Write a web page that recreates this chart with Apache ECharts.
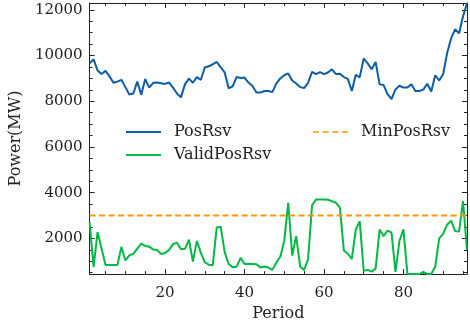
<!DOCTYPE html>
<html lang="en">
<head>
    <meta charset="UTF-8">
    <title>Power reserve</title>
    <script src="https://cdn.jsdelivr.net/npm/echarts@6/dist/echarts.min.js"></script>
    <style>
        html, body { margin: 0; padding: 0; background: #fff; }
        #container { width: 470px; height: 327px; }
    </style>
</head>
<body>
    <div id="container"></div>
</body>
<script>
    var period = [1, 2, 3, 4, 5, 6, 7, 8, 9, 10, 11, 12, 13, 14, 15, 16, 17, 18, 19, 20,
        21, 22, 23, 24, 25, 26, 27, 28, 29, 30, 31, 32, 33, 34, 35, 36, 37, 38, 39, 40,
        41, 42, 43, 44, 45, 46, 47, 48, 49, 50, 51, 52, 53, 54, 55, 56, 57, 58, 59, 60,
        61, 62, 63, 64, 65, 66, 67, 68, 69, 70, 71, 72, 73, 74, 75, 76, 77, 78, 79, 80,
        81, 82, 83, 84, 85, 86, 87, 88, 89, 90, 91, 92, 93, 94, 95, 96];

    var posRsv = [9660, 9830, 9350, 9190, 9330, 9090, 8810, 8860, 8940, 8620,
        8300, 8340, 8860, 8290, 8970, 8600, 8810, 8820, 8790, 8760,
        8820, 8600, 8340, 8170, 8740, 8990, 8810, 9060, 8940, 9480,
        9530, 9620, 9720, 9480, 9260, 8570, 8650, 9060, 9020, 9040,
        8820, 8670, 8380, 8380, 8450, 8450, 8400, 8770, 9000, 9140,
        9220, 8910, 8780, 8620, 8580, 8810, 9290, 9190, 9280, 9190,
        9260, 9400, 9190, 9210, 9060, 8980, 8450, 9160, 9050, 9870,
        9660, 9400, 9720, 8740, 8710, 8310, 8100, 8520, 8680, 8600,
        8600, 8750, 8450, 8450, 8510, 8770, 8430, 9140, 8910, 9190,
        10110, 10750, 11150, 10980, 11710, 12300];

    var validPosRsv = [2700, 750, 2280, 1575, 840, 840, 840, 840, 1630, 1035,
        1260, 1330, 1550, 1770, 1670, 1640, 1520, 1500, 1320, 1360,
        1500, 1750, 1815, 1530, 1545, 1950, 990, 1890, 1380, 950,
        850, 830, 2480, 2510, 1400, 880, 740, 760, 1150, 880,
        880, 880, 870, 725, 770, 725, 625, 940, 1200, 1900,
        3560, 1250, 2100, 765, 625, 1100, 3460, 3700, 3700, 3700,
        3690, 3630, 3560, 3350, 1475, 1330, 1100, 2380, 2750, 580,
        625, 550, 680, 2390, 2100, 2340, 2250, 540, 1900, 2400,
        440, 440, 440, 440, 540, 440, 440, 760, 2000, 2200,
        2600, 2780, 2320, 2300, 3630, 1500];

    var minPosRsv = 3000;
    var minPeriods = [1, 96];

    var FONT = 'DejaVu Serif';
    var AXIS = '#222';
    // four dashes for the MinPosRsv legend sample
    var DASH_ICON = 'path://M0,0h6v1.6h-6z M9.7,0h6v1.6h-6z M19.4,0h6v1.6h-6z M29.1,0h5.9v1.6h-5.9z';

    function pairs(xs, ys) {
        return xs.map(function (x, i) { return [x, ys[i]]; });
    }

    var xMin = period[0], xMax = period[period.length - 1];
    var yMin = Math.min.apply(null, posRsv.concat(validPosRsv));
    var yMax = Math.max.apply(null, posRsv.concat(validPosRsv));

    var baseAxis = {
        type: 'value',
        axisLine: { show: true, onZero: false, lineStyle: { color: AXIS, width: 1 } },
        axisTick: { show: true, inside: true, length: 5, lineStyle: { color: AXIS } },
        minorTick: { show: true, splitNumber: 4, length: 3, lineStyle: { color: AXIS } },
        splitLine: { show: false },
        minorSplitLine: { show: false }
    };

    function axis(extra) {
        return Object.assign({}, JSON.parse(JSON.stringify(baseAxis)), extra);
    }

    var legendText = { fontFamily: FONT, fontSize: 16, color: '#222', padding: [0, 0, 0, 8] };

    var myChart = echarts.init(document.getElementById('container'), null, { renderer: 'canvas' });

    var option = {
        animation: false,
        backgroundColor: '#fff',
        grid: { left: 85, right: 3, top: 3, bottom: 46 },
        legend: [{
            orient: 'vertical',
            left: 121,
            top: 119,
            itemWidth: 35,
            itemHeight: 2,
            itemGap: 7,
            data: [{ name: 'PosRsv', icon: 'rect' }, { name: 'ValidPosRsv', icon: 'rect' }],
            textStyle: legendText
        }, {
            orient: 'vertical',
            left: 308,
            top: 119,
            itemWidth: 35,
            itemHeight: 2,
            data: [{ name: 'MinPosRsv', icon: DASH_ICON }],
            textStyle: legendText
        }],
        xAxis: [axis({
            min: xMin, max: xMax,
            name: 'Period', nameLocation: 'middle', nameGap: 31,
            nameTextStyle: { fontFamily: FONT, fontSize: 16, color: '#222' },
            axisLabel: { fontFamily: FONT, fontSize: 15, color: '#222', margin: 12, showMinLabel: false, showMaxLabel: false,
                formatter: function (v) { return String(v); } }
        }), axis({
            min: xMin, max: xMax, position: 'top',
            axisLabel: { show: false }
        })],
        yAxis: [axis({
            min: yMin, max: yMax,
            name: 'Power(MW)', nameLocation: 'middle', nameGap: 65,
            nameTextStyle: { fontFamily: FONT, fontSize: 16, color: '#222' },
            axisLabel: { fontFamily: FONT, fontSize: 15, color: '#222', margin: 7, showMinLabel: false, showMaxLabel: false,
                formatter: function (v) { return String(v); } }
        }), axis({
            min: yMin, max: yMax, position: 'right',
            axisLabel: { show: false }
        })],
        series: [{
            name: 'PosRsv',
            type: 'line',
            data: pairs(period, posRsv),
            symbol: 'none',
            lineStyle: { color: '#0C5DA5', width: 2 },
            itemStyle: { color: '#0C5DA5' }
        }, {
            name: 'ValidPosRsv',
            type: 'line',
            data: pairs(period, validPosRsv),
            symbol: 'none',
            lineStyle: { color: '#00B945', width: 2 },
            itemStyle: { color: '#00B945' }
        }, {
            name: 'MinPosRsv',
            type: 'line',
            data: pairs(minPeriods, [minPosRsv, minPosRsv]),
            symbol: 'none',
            lineStyle: { color: '#FF9500', width: 2, type: [6, 3.5] },
            itemStyle: { color: '#FF9500' }
        }]
    };

    myChart.setOption(option);
</script>
</html>
